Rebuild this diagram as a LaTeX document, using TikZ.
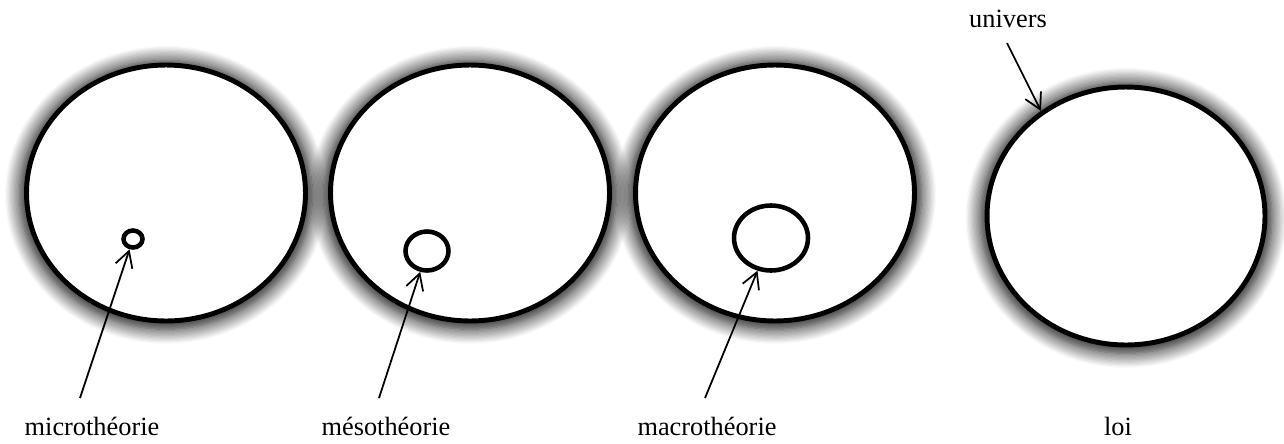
\documentclass[tikz,border=0pt]{standalone}
\usepackage{fontspec}
\setmainfont{Liberation Serif}
\usetikzlibrary{arrows.meta,shapes.geometric,shadows.blur}

\begin{document}
\begin{tikzpicture}[
    x=0.02cm, y=-0.02cm,
    font=\fontsize{15pt}{18pt}\selectfont,
    >={Straight Barb[length=9pt,width=10pt]},
    world/.style={ellipse, draw, line width=2.8pt, fill=white, inner sep=0pt,
        minimum width=5.58cm, minimum height=5.12cm,
        blur shadow={shadow xshift=0pt, shadow yshift=-1pt, shadow blur radius=8pt,
                     shadow blur steps=12, shadow opacity=95, shadow scale=1.05}},
    theory/.style={ellipse, draw, line width=2.6pt, fill=white, inner sep=0pt},
    lbl/.style={anchor=base, inner sep=0pt},
    ptr/.style={->, line width=1pt},
]
\useasboundingbox (0,0) rectangle (1284,443);

% ---- the four worlds ----
\node[world] (wmicro) at (166,193) {};
\node[world] (wmeso)  at (470,193) {};
\node[world] (wmacro) at (775,193) {};
\node[world, minimum width=5.56cm, minimum height=5.16cm] (wloi) at (1126,216) {};

% ---- theories inside ----
\node[theory, minimum width=0.38cm, minimum height=0.34cm] (cmicro) at (133,239) {};
\node[theory, minimum width=0.86cm, minimum height=0.78cm] (cmeso)  at (427,251) {};
\node[theory, minimum width=1.48cm, minimum height=1.30cm] (cmacro) at (771,238) {};

% ---- labels ----
\node[lbl] (lmicro) at (92,435)   {microthéorie};
\node[lbl] (lmeso)  at (386,435)  {mésothéorie};
\node[lbl] (lmacro) at (707,435)  {macrothéorie};
\node[lbl] (lloi)   at (1118,435) {loi};
\node[lbl] (luniv)  at (1008,27)  {univers};

% ---- pointers ----
\coordinate (tmicro) at (80,398);
\coordinate (tmeso)  at (379,398);
\coordinate (tmacro) at (705,398);
\coordinate (tuniv)  at (1007,43);

\draw[ptr] (tmicro) -- (cmicro);
\draw[ptr] (tmeso)  -- (cmeso);
\draw[ptr] (tmacro) -- (cmacro);
\draw[ptr] (tuniv)  -- (wloi.129);
\end{tikzpicture}
\end{document}
